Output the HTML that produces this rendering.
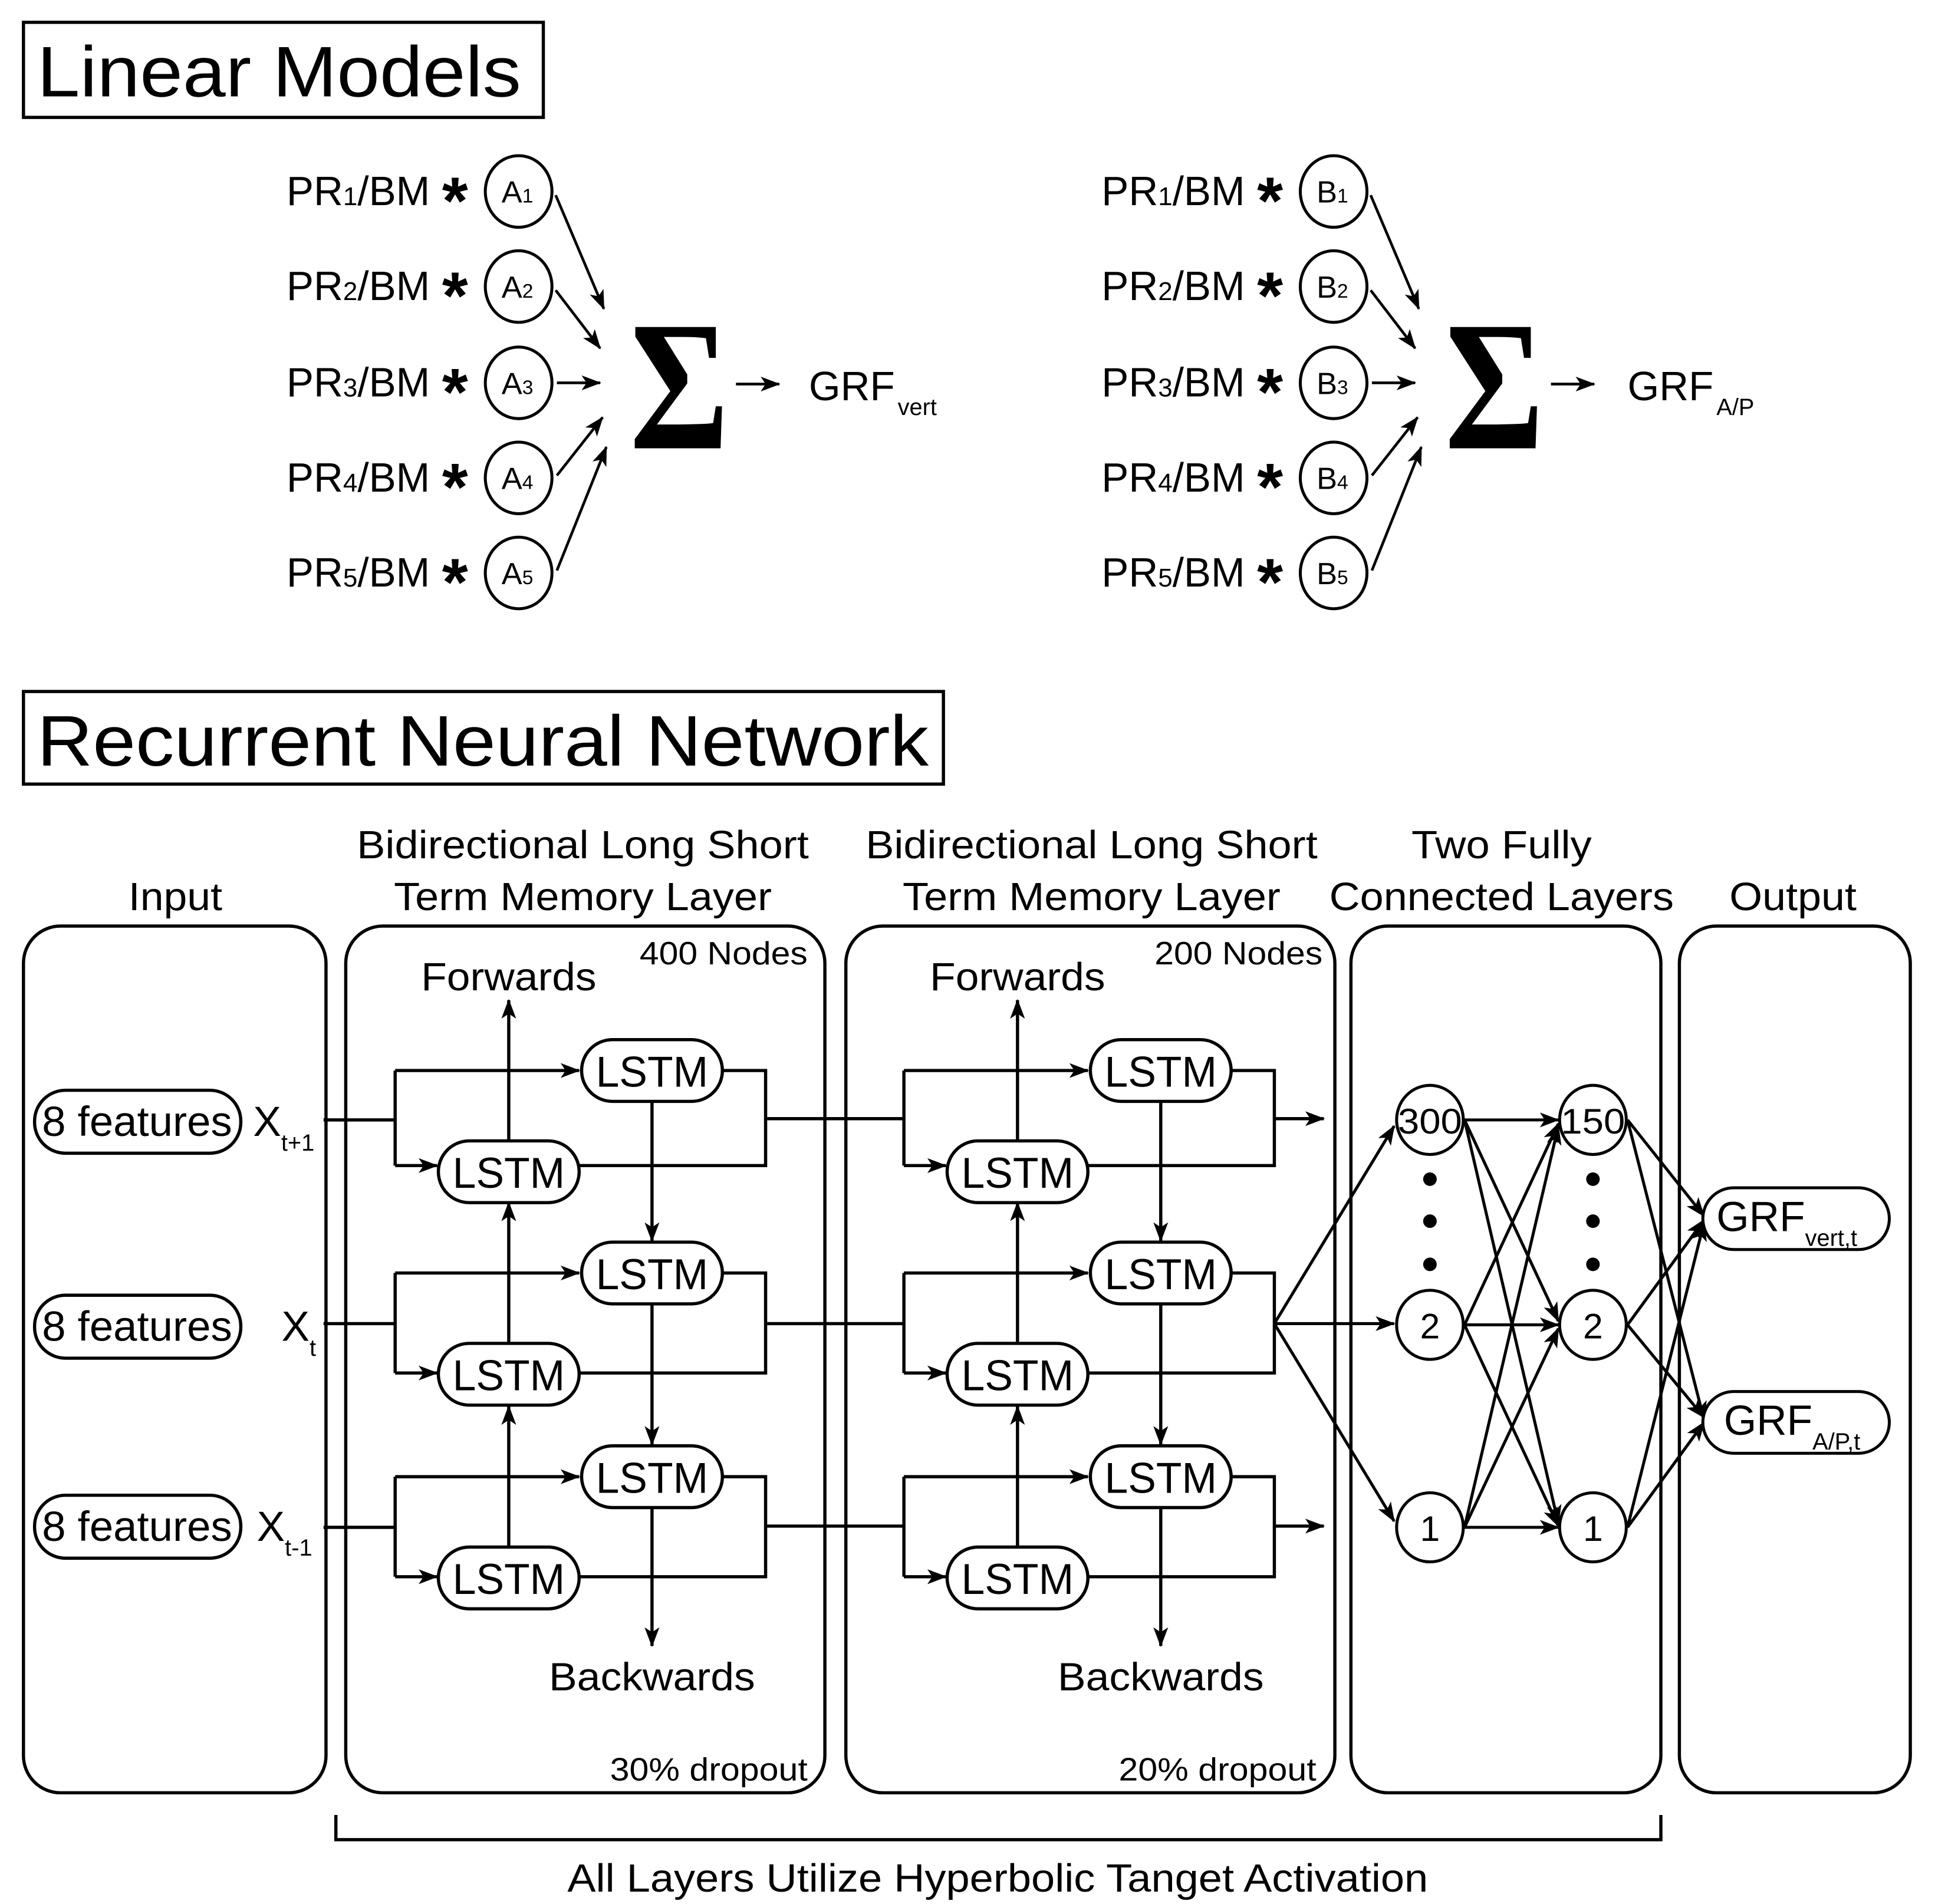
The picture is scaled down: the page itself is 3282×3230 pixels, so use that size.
<!DOCTYPE html>
<html><head><meta charset="utf-8"><style>
html,body{margin:0;padding:0;background:#fff}
svg{display:block}
text{font-family:"Liberation Sans",sans-serif;fill:#000}
</style></head><body>
<svg width="3282" height="3230" viewBox="0 0 1567 1542" xmlns="http://www.w3.org/2000/svg">
<defs>
<marker id="a" viewBox="0 0 16 12" refX="15" refY="6" markerWidth="16" markerHeight="12" markerUnits="userSpaceOnUse" orient="auto">
<path d="M0,0 L16,6 L0,12 L4,6 Z" fill="#000"/>
</marker>
</defs>
<g fill="none" stroke="#000" stroke-width="2.6">
<rect x="19" y="18" width="421" height="77"/>
<rect x="19" y="560" width="745" height="75"/>
</g>
<text x="30" y="78" font-size="58" textLength="392" lengthAdjust="spacingAndGlyphs">Linear Models</text>
<text x="30" y="620" font-size="58" textLength="722" lengthAdjust="spacingAndGlyphs">Recurrent Neural Network</text>

<g font-size="33">
<text x="232" y="166">PR<tspan font-size="21">1</tspan>/BM</text>
<text x="232" y="243">PR<tspan font-size="21">2</tspan>/BM</text>
<text x="232" y="321">PR<tspan font-size="21">3</tspan>/BM</text>
<text x="232" y="398">PR<tspan font-size="21">4</tspan>/BM</text>
<text x="232" y="475">PR<tspan font-size="21">5</tspan>/BM</text>
<text x="892" y="166">PR<tspan font-size="21">1</tspan>/BM</text>
<text x="892" y="243">PR<tspan font-size="21">2</tspan>/BM</text>
<text x="892" y="321">PR<tspan font-size="21">3</tspan>/BM</text>
<text x="892" y="398">PR<tspan font-size="21">4</tspan>/BM</text>
<text x="892" y="475">PR<tspan font-size="21">5</tspan>/BM</text>
</g>
<g font-size="54" font-weight="bold">
<text x="358" y="181">*</text><text x="358" y="258">*</text><text x="358" y="336">*</text><text x="358" y="413">*</text><text x="358" y="490">*</text>
<text x="1018" y="181">*</text><text x="1018" y="258">*</text><text x="1018" y="336">*</text><text x="1018" y="413">*</text><text x="1018" y="490">*</text>
</g>
<g fill="none" stroke="#000" stroke-width="2.4">
<ellipse cx="420" cy="155" rx="27" ry="29"/><ellipse cx="420" cy="232" rx="27" ry="29"/><ellipse cx="420" cy="310" rx="27" ry="29"/><ellipse cx="420" cy="387" rx="27" ry="29"/><ellipse cx="420" cy="464" rx="27" ry="29"/>
<ellipse cx="1080" cy="155" rx="27" ry="29"/><ellipse cx="1080" cy="232" rx="27" ry="29"/><ellipse cx="1080" cy="310" rx="27" ry="29"/><ellipse cx="1080" cy="387" rx="27" ry="29"/><ellipse cx="1080" cy="464" rx="27" ry="29"/>
</g>
<g font-size="25" text-anchor="middle">
<text x="419" y="164">A<tspan font-size="16">1</tspan></text><text x="419" y="241">A<tspan font-size="16">2</tspan></text><text x="419" y="319">A<tspan font-size="16">3</tspan></text><text x="419" y="396">A<tspan font-size="16">4</tspan></text><text x="419" y="473">A<tspan font-size="16">5</tspan></text>
<text x="1079" y="164">B<tspan font-size="16">1</tspan></text><text x="1079" y="241">B<tspan font-size="16">2</tspan></text><text x="1079" y="319">B<tspan font-size="16">3</tspan></text><text x="1079" y="396">B<tspan font-size="16">4</tspan></text><text x="1079" y="473">B<tspan font-size="16">5</tspan></text>
</g>
<g stroke="#000" stroke-width="2.2" marker-end="url(#a)" fill="none">
<path d="M450 158 L489 250"/><path d="M450 235 L486 282"/><path d="M451 310 L486 310"/><path d="M451 385 L488 338"/><path d="M451 462 L491 362"/>
<path d="M596 311 L631 311"/>
<path d="M1110 158 L1149 250"/><path d="M1110 235 L1146 282"/><path d="M1111 310 L1146 310"/><path d="M1111 385 L1148 338"/><path d="M1111 462 L1151 362"/>
<path d="M1256 311 L1291 311"/>
</g>
<text x="0" y="0" font-size="150" style="font-family:'Liberation Serif',serif" font-weight="bold" transform="translate(510,363) scale(0.82,1)">Σ</text>
<text x="0" y="0" font-size="150" style="font-family:'Liberation Serif',serif" font-weight="bold" transform="translate(1170,363) scale(0.82,1)">Σ</text>
<text x="655" y="324" font-size="33">GRF</text><text x="727" y="336" font-size="19">vert</text>
<text x="1318" y="324" font-size="33">GRF</text><text x="1390" y="336" font-size="19">A/P</text>

<g font-size="32" text-anchor="middle">
<text x="142" y="737" textLength="76" lengthAdjust="spacingAndGlyphs">Input</text>
<text x="472" y="695" textLength="366" lengthAdjust="spacingAndGlyphs">Bidirectional Long Short</text><text x="472" y="737" textLength="306" lengthAdjust="spacingAndGlyphs">Term Memory Layer</text>
<text x="884" y="695" textLength="366" lengthAdjust="spacingAndGlyphs">Bidirectional Long Short</text><text x="884" y="737" textLength="306" lengthAdjust="spacingAndGlyphs">Term Memory Layer</text>
<text x="1216" y="695" textLength="146" lengthAdjust="spacingAndGlyphs">Two Fully</text><text x="1216" y="737" textLength="279" lengthAdjust="spacingAndGlyphs">Connected Layers</text>
<text x="1452" y="737" textLength="103" lengthAdjust="spacingAndGlyphs">Output</text>
</g>
<g fill="none" stroke="#000" stroke-width="2.6">
<rect x="19" y="750" width="245" height="702" rx="30"/>
<rect x="280" y="750" width="388" height="702" rx="30"/>
<rect x="685" y="750" width="396" height="702" rx="30"/>
<rect x="1094" y="750" width="251" height="702" rx="30"/>
<rect x="1360" y="750" width="187" height="702" rx="30"/>
</g>
<g font-size="26">
<text x="518" y="781" textLength="136" lengthAdjust="spacingAndGlyphs">400 Nodes</text><text x="494" y="1442" textLength="160" lengthAdjust="spacingAndGlyphs">30% dropout</text>
<text x="935" y="781" textLength="136" lengthAdjust="spacingAndGlyphs">200 Nodes</text><text x="906" y="1442" textLength="160" lengthAdjust="spacingAndGlyphs">20% dropout</text>
</g>

<g fill="none" stroke="#000" stroke-width="2.6">
<rect x="28" y="883" width="167" height="51" rx="25"/>
<rect x="28" y="1049" width="167" height="51" rx="25"/>
<rect x="28" y="1211" width="167" height="51" rx="25"/>
</g>
<g font-size="34">
<text x="34" y="920" textLength="154" lengthAdjust="spacingAndGlyphs">8 features</text><text x="34" y="1086" textLength="154" lengthAdjust="spacingAndGlyphs">8 features</text><text x="34" y="1248" textLength="154" lengthAdjust="spacingAndGlyphs">8 features</text>
</g>
<text x="205" y="920" font-size="34">X<tspan font-size="19" dy="12">t+1</tspan></text>
<text x="228" y="1086" font-size="34">X<tspan font-size="19" dy="12">t</tspan></text>
<text x="208" y="1248" font-size="34">X<tspan font-size="19" dy="12">t-1</tspan></text>

<g>
<g fill="none" stroke="#000" stroke-width="2.6">
<path d="M262 907 H320 M320 867 V944 M585 867 H620 V944 H469 M620 906 H732"/>
<path d="M262 1072 H320 M320 1031 V1112 M585 1031 H620 V1112 H469 M620 1072 H732"/>
<path d="M262 1237 H320 M320 1196 V1277 M585 1196 H620 V1277 H469 M620 1236 H732"/>
<path d="M320 867 H469" marker-end="url(#a)"/><path d="M320 944 H354" marker-end="url(#a)"/>
<path d="M320 1031 H469" marker-end="url(#a)"/><path d="M320 1112 H354" marker-end="url(#a)"/>
<path d="M320 1196 H469" marker-end="url(#a)"/><path d="M320 1277 H354" marker-end="url(#a)"/>
<path d="M528 892 V1005" marker-end="url(#a)"/><path d="M528 1056 V1170" marker-end="url(#a)"/><path d="M528 1221 V1333" marker-end="url(#a)"/>
<path d="M412 1253 V1139" marker-end="url(#a)"/><path d="M412 1088 V974" marker-end="url(#a)"/><path d="M412 924 V810" marker-end="url(#a)"/>
<rect x="471" y="842" width="114" height="50" rx="25" fill="#fff"/>
<rect x="471" y="1006" width="114" height="50" rx="25" fill="#fff"/>
<rect x="471" y="1171" width="114" height="50" rx="25" fill="#fff"/>
<rect x="355" y="924" width="114" height="50" rx="25" fill="#fff"/>
<rect x="355" y="1088" width="114" height="50" rx="25" fill="#fff"/>
<rect x="355" y="1253" width="114" height="50" rx="25" fill="#fff"/>
</g>
<g font-size="35" text-anchor="middle">
<text x="528" y="880" textLength="91" lengthAdjust="spacingAndGlyphs">LSTM</text><text x="528" y="1044" textLength="91" lengthAdjust="spacingAndGlyphs">LSTM</text><text x="528" y="1209" textLength="91" lengthAdjust="spacingAndGlyphs">LSTM</text>
<text x="412" y="962" textLength="91" lengthAdjust="spacingAndGlyphs">LSTM</text><text x="412" y="1126" textLength="91" lengthAdjust="spacingAndGlyphs">LSTM</text><text x="412" y="1291" textLength="91" lengthAdjust="spacingAndGlyphs">LSTM</text>
<text x="412" y="802" font-size="32" textLength="142" lengthAdjust="spacingAndGlyphs">Forwards</text>
<text x="528" y="1369" font-size="32" textLength="167" lengthAdjust="spacingAndGlyphs">Backwards</text>
</g>
</g>
<g transform="translate(412,0)">
<g fill="none" stroke="#000" stroke-width="2.6">
<path d="M320 867 V944 M585 867 H620 V944 H469"/>
<path d="M320 1031 V1112 M585 1031 H620 V1112 H469"/>
<path d="M320 1196 V1277 M585 1196 H620 V1277 H469"/>
<path d="M320 867 H469" marker-end="url(#a)"/><path d="M320 944 H354" marker-end="url(#a)"/>
<path d="M320 1031 H469" marker-end="url(#a)"/><path d="M320 1112 H354" marker-end="url(#a)"/>
<path d="M320 1196 H469" marker-end="url(#a)"/><path d="M320 1277 H354" marker-end="url(#a)"/>
<path d="M528 892 V1005" marker-end="url(#a)"/><path d="M528 1056 V1170" marker-end="url(#a)"/><path d="M528 1221 V1333" marker-end="url(#a)"/>
<path d="M412 1253 V1139" marker-end="url(#a)"/><path d="M412 1088 V974" marker-end="url(#a)"/><path d="M412 924 V810" marker-end="url(#a)"/>
<path d="M620 906 H660" marker-end="url(#a)"/><path d="M620 1236 H660" marker-end="url(#a)"/>
<rect x="471" y="842" width="114" height="50" rx="25" fill="#fff"/>
<rect x="471" y="1006" width="114" height="50" rx="25" fill="#fff"/>
<rect x="471" y="1171" width="114" height="50" rx="25" fill="#fff"/>
<rect x="355" y="924" width="114" height="50" rx="25" fill="#fff"/>
<rect x="355" y="1088" width="114" height="50" rx="25" fill="#fff"/>
<rect x="355" y="1253" width="114" height="50" rx="25" fill="#fff"/>
</g>
<g font-size="35" text-anchor="middle">
<text x="528" y="880" textLength="91" lengthAdjust="spacingAndGlyphs">LSTM</text><text x="528" y="1044" textLength="91" lengthAdjust="spacingAndGlyphs">LSTM</text><text x="528" y="1209" textLength="91" lengthAdjust="spacingAndGlyphs">LSTM</text>
<text x="412" y="962" textLength="91" lengthAdjust="spacingAndGlyphs">LSTM</text><text x="412" y="1126" textLength="91" lengthAdjust="spacingAndGlyphs">LSTM</text><text x="412" y="1291" textLength="91" lengthAdjust="spacingAndGlyphs">LSTM</text>
<text x="412" y="802" font-size="32" textLength="142" lengthAdjust="spacingAndGlyphs">Forwards</text>
<text x="528" y="1369" font-size="32" textLength="167" lengthAdjust="spacingAndGlyphs">Backwards</text>
</g>
</g>

<g fill="none" stroke="#000" stroke-width="2.4">
<path d="M1032 1072 L1129 912" marker-end="url(#a)"/>
<path d="M1032 1072 L1129 1072" marker-end="url(#a)"/>
<path d="M1032 1072 L1129 1232" marker-end="url(#a)"/>
<g marker-end="url(#a)">
<path d="M1186 907 L1262 907"/><path d="M1186 907 L1262 1070"/><path d="M1186 907 L1262 1234"/>
<path d="M1186 1073 L1262 910"/><path d="M1186 1073 L1262 1073"/><path d="M1186 1073 L1262 1236"/>
<path d="M1186 1237 L1262 912"/><path d="M1186 1237 L1262 1076"/><path d="M1186 1237 L1262 1237"/>
<path d="M1318 907 L1380 985"/><path d="M1318 907 L1380 1150"/>
<path d="M1318 1073 L1380 988"/><path d="M1318 1073 L1380 1148"/>
<path d="M1318 1237 L1380 990"/><path d="M1318 1237 L1380 1152"/>
</g>
<ellipse cx="1158" cy="907" rx="27" ry="28" fill="#fff"/><ellipse cx="1158" cy="1073" rx="27" ry="28" fill="#fff"/><ellipse cx="1158" cy="1237" rx="27" ry="28" fill="#fff"/>
<ellipse cx="1290" cy="907" rx="27" ry="28" fill="#fff"/><ellipse cx="1290" cy="1073" rx="27" ry="28" fill="#fff"/><ellipse cx="1290" cy="1237" rx="27" ry="28" fill="#fff"/>
<rect x="1379" y="962" width="151" height="50" rx="25" fill="#fff"/>
<rect x="1379" y="1127" width="151" height="50" rx="25" fill="#fff"/>
</g>
<g fill="#000">
<circle cx="1158" cy="989" r="5.5"/><circle cx="1158" cy="955" r="5.5"/><circle cx="1158" cy="1024" r="5.5"/>
<circle cx="1290" cy="989" r="5.5"/><circle cx="1290" cy="955" r="5.5"/><circle cx="1290" cy="1024" r="5.5"/>
</g>
<g font-size="29" text-anchor="middle">
<text x="1158" y="918" textLength="52" lengthAdjust="spacingAndGlyphs">300</text><text x="1158" y="1084">2</text><text x="1158" y="1248">1</text>
<text x="1290" y="918" textLength="52" lengthAdjust="spacingAndGlyphs">150</text><text x="1290" y="1084">2</text><text x="1290" y="1248">1</text>
</g>
<text x="1390" y="997" font-size="34">GRF<tspan font-size="19" dy="12">vert,t</tspan></text>
<text x="1396" y="1162" font-size="34">GRF<tspan font-size="19" dy="12">A/P,t</tspan></text>

<path d="M272 1470 V1490 H1345 V1470" fill="none" stroke="#000" stroke-width="2.6"/>
<text x="808" y="1532" font-size="32" text-anchor="middle" textLength="697" lengthAdjust="spacingAndGlyphs">All Layers Utilize Hyperbolic Tanget Activation</text>
</svg>
</body></html>
